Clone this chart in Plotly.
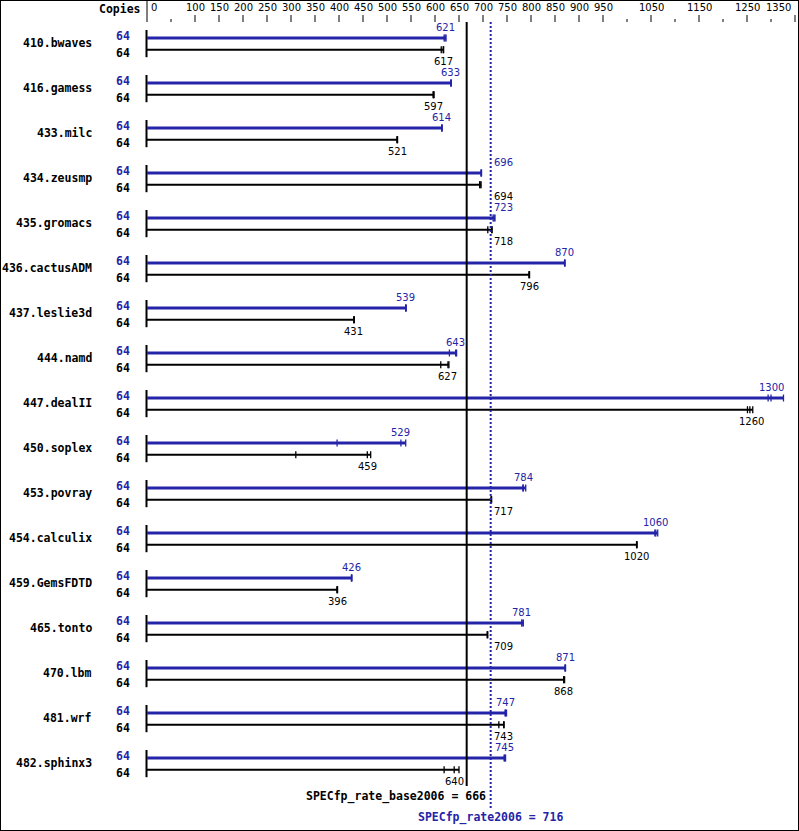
import plotly.graph_objects as go

# ---------------- data ----------------
benchmarks = ["410.bwaves", "416.gamess", "433.milc", "434.zeusmp", "435.gromacs",
              "436.cactusADM", "437.leslie3d", "444.namd", "447.dealII", "450.soplex",
              "453.povray", "454.calculix", "459.GemsFDTD", "465.tonto", "470.lbm",
              "481.wrf", "482.sphinx3"]
copies_peak = [64, 64, 64, 64, 64, 64, 64, 64, 64, 64, 64, 64, 64, 64, 64, 64, 64]
copies_base = [64, 64, 64, 64, 64, 64, 64, 64, 64, 64, 64, 64, 64, 64, 64, 64, 64]
peak_ratio = [621, 633, 614, 696, 723, 870, 539, 643, 1300, 529, 784, 1060, 426, 781, 871, 747, 745]
base_ratio = [617, 597, 521, 694, 718, 796, 431, 627, 1260, 459, 717, 1020, 396, 709, 868, 743, 640]
peak_runs = [[619, 621, 623], [633, 633, 634], [614, 614, 615], [696, 696, 697],
             [721, 723, 725], [870, 870, 871], [539, 539, 540], [630, 643, 645],
             [1294, 1300, 1326], [396, 529, 539], [783, 784, 789], [1058, 1060, 1064],
             [426, 426, 427], [781, 781, 784], [871, 871, 872], [746, 747, 749],
             [744, 745, 747]]
base_runs = [[613, 617, 618], [596, 597, 598], [521, 521, 522], [693, 694, 696],
             [710, 718, 719], [796, 796, 797], [431, 431, 432], [612, 627, 629],
             [1251, 1256, 1262], [310, 459, 466], [717, 717, 718], [1020, 1020, 1021],
             [396, 396, 397], [709, 709, 710], [868, 868, 870], [733, 743, 744],
             [619, 640, 650]]
axis_major = [0, 100, 150, 200, 250, 300, 350, 400, 450, 500, 550, 600, 650, 700,
              750, 800, 850, 900, 950, 1050, 1150, 1250, 1350]
axis_minor = [50, 1000, 1100, 1200, 1300]
spec_base = 666
spec_peak = 716
base_label = "SPECfp_rate_base2006 = 666"
peak_label = "SPECfp_rate2006 = 716"

# ---------------- layout constants ----------------
W, H = 799, 831
PX0 = 147          # pixel of value 0
SCALE = 0.48       # pixels per unit
X0 = -PX0 / SCALE
X1 = X0 + W / SCALE
ROW0 = 38.0
STEP = 45.0
BLUE = "#2424a8"
BLACK = "#000000"
MONO = "DejaVu Sans Mono"
SANS = "DejaVu Sans"
px = 1 / SCALE     # one pixel in data units
DIGIT_W = 6.36     # approx. digit width (px) of the value font

shapes = []
ann = []


def line(x0, y0, x1, y1, color, width, dash=None):
    d = dict(type="line", xref="x", yref="y", x0=x0, y0=y0, x1=x1, y1=y1,
             line=dict(color=color, width=width))
    if dash:
        d["line"]["dash"] = dash
    shapes.append(d)


def text(x, y, s, color, size, family, bold=False, xanchor="center", xshift=0):
    ann.append(dict(x=x, y=y, xref="x", yref="y", text=("<b>%s</b>" % s) if bold else s,
                    showarrow=False, xanchor=xanchor, yanchor="middle", xshift=xshift,
                    font=dict(color=color, size=size, family=family)))


def value_label(v, y, color):
    s = str(v)
    half = len(s) * DIGIT_W / 2
    cx = PX0 + v * SCALE
    lx = PX0 + spec_peak * SCALE
    if cx - half - 1.5 < lx < cx + half + 1.5:
        text(spec_peak, y, s, color, 10, SANS, xanchor="left", xshift=1.5)
    else:
        text(v, y, s, color, 10, SANS)


# frame
shapes.append(dict(type="rect", xref="paper", yref="paper", x0=0, y0=0, x1=1, y1=1,
                   line=dict(color=BLACK, width=2), fillcolor="rgba(0,0,0,0)"))

# top axis
text(X0, 9, "Copies", BLACK, 11.5, MONO, bold=True, xanchor="right", xshift=(PX0 - 4))
for k, v in enumerate(axis_major):
    if v == 0:
        line(v, 0, v, 22, BLACK, 1)
        text(v, 7, str(v), BLACK, 10, SANS, xanchor="left", xshift=2)
    else:
        line(v, 15, v, 22, BLACK, 1)
        if k == len(axis_major) - 1:
            text(v, 7, str(v), BLACK, 10, SANS, xanchor="right", xshift=-2)
        else:
            text(v, 7, str(v), BLACK, 10, SANS)
for v in axis_minor:
    line(v, 19, v, 22, BLACK, 1)

# benchmark rows
for i, name in enumerate(benchmarks):
    yb = ROW0 + STEP * i
    yk = yb + 11.7
    text(X0, yb + 5, name, BLACK, 11.5, MONO, bold=True, xanchor="right", xshift=94)
    text(X0, yb - 2.5, str(copies_peak[i]), BLUE, 11.5, MONO, bold=True, xanchor="right", xshift=132)
    text(X0, yk + 3.5, str(copies_base[i]), BLACK, 11.5, MONO, bold=True, xanchor="right", xshift=132)
    # zero line
    line(0 - 0.5 * px, yb - 8, 0 - 0.5 * px, yk + 7.5, BLACK, 2)
    # peak bar
    line(0, yb, max(peak_runs[i]), yb, BLUE, 3)
    for r in peak_runs[i]:
        line(r, yb - 3.5, r, yb + 3.5, BLUE, 1.3)
    value_label(peak_ratio[i], yb - 11, BLUE)
    # base bar
    line(0, yk, max(base_runs[i]), yk, BLACK, 2)
    for r in base_runs[i]:
        line(r, yk - 3.5, r, yk + 3.5, BLACK, 1.3)
    value_label(base_ratio[i], yk + 11.5, BLACK)

# summary lines
line(spec_base, 22, spec_base, 786, BLACK, 2)
line(spec_peak, 22, spec_peak, 810, BLUE, 2, dash="2px,2px")
text(spec_peak, 796, base_label, BLACK, 11.5, MONO, bold=True, xanchor="right", xshift=-3)
text(spec_peak, 817, peak_label, BLUE, 11.5, MONO, bold=True)

fig = go.Figure()
fig.update_layout(
    width=W, height=H,
    margin=dict(l=0, r=0, t=0, b=0),
    paper_bgcolor="white", plot_bgcolor="white",
    xaxis=dict(range=[X0, X1], visible=False, fixedrange=True),
    yaxis=dict(range=[H, 0], visible=False, fixedrange=True),
    shapes=shapes, annotations=ann, showlegend=False,
)
fig.write_html("out.html", config={"displayModeBar": False},
               post_script="document.body.style.margin='0px';document.body.style.overflow='hidden';")
